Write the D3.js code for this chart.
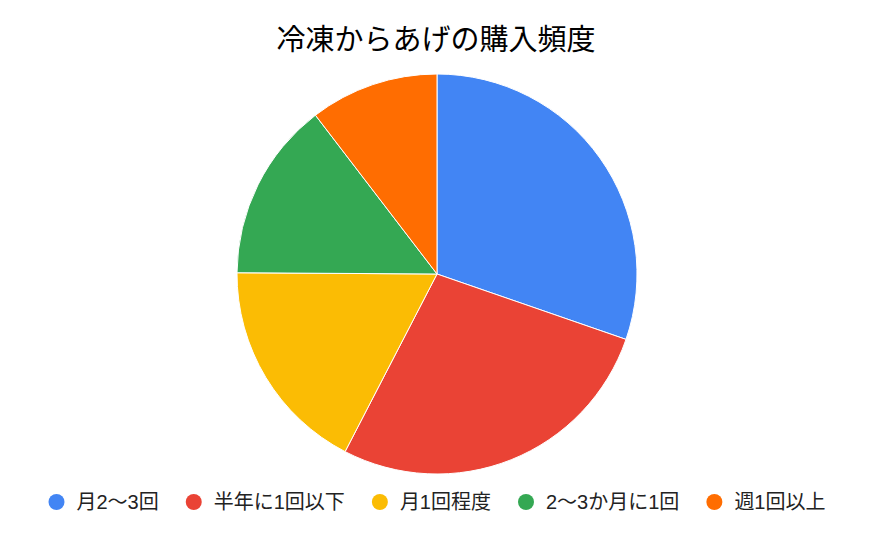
<!DOCTYPE html>
<html>
<head>
<meta charset="utf-8">
<script src="https://cdn.jsdelivr.net/npm/d3@7"></script>
<style>
  body { margin: 0; background: #fff; }
  text { font-family: "Liberation Sans", "Noto Sans CJK JP", sans-serif; }
</style>
</head>
<body>
<div id="chart"></div>
<script>
// ─── DATA ───────────────────────────────────────────────────────────────────────
const categories = ['月2〜3回', '半年に1回以下', '月1回程度', '2〜3か月に1回', '週1回以上'];
const values = [30.3, 27.3, 17.5, 14.5, 10.4];
const colors = ['#4285F4', '#EA4335', '#FBBC04', '#34A853', '#FF6D01'];
const title = '冷凍からあげの購入頻度';

// ─── CANVAS ─────────────────────────────────────────────────────────────────────
const width = 874, height = 540;
const cx = 437, cy = 274, radius = 200;

const svg = d3.select('#chart')
  .append('svg')
  .attr('width', width)
  .attr('height', height)
  .style('background', '#fff');

// title
svg.append('text')
  .attr('x', cx - 1)
  .attr('y', 50)
  .attr('text-anchor', 'middle')
  .attr('font-size', 29)
  .attr('fill', '#000')
  .text(title);

// ─── PIE ────────────────────────────────────────────────────────────────────────
const data = categories.map((c, i) => ({ name: c, value: values[i], color: colors[i] }));

const pie = d3.pie().value(d => d.value).sort(null);
const arc = d3.arc().innerRadius(0).outerRadius(radius);

svg.append('g')
  .attr('transform', `translate(${cx}, ${cy})`)
  .selectAll('path')
  .data(pie(data))
  .join('path')
  .attr('d', arc)
  .attr('fill', d => d.data.color)
  .attr('stroke', '#fff')
  .attr('stroke-width', 1);

// ─── LEGEND ─────────────────────────────────────────────────────────────────────
const legendY = 502;
const dotR = 8, dotGap = 20, itemGap = 27;

const legend = svg.append('g');
const items = legend.selectAll('g')
  .data(data)
  .join('g');

items.append('circle')
  .attr('r', dotR)
  .attr('cy', 0)
  .attr('fill', d => d.color);

items.append('text')
  .attr('x', dotGap)
  .attr('y', 0)
  .attr('dy', '0.36em')
  .attr('font-size', 20)
  .attr('fill', '#222')
  .text(d => d.name);

// place items left to right and center the row
let x = 0;
items.each(function () {
  const g = d3.select(this);
  g.attr('transform', `translate(${x + dotR}, ${legendY})`);
  const w = g.select('text').node().getComputedTextLength();
  x += dotR + dotGap + w + itemGap;
});
const total = x - itemGap;
legend.attr('transform', `translate(${(width - total) / 2}, 0)`);
</script>
</body>
</html>
